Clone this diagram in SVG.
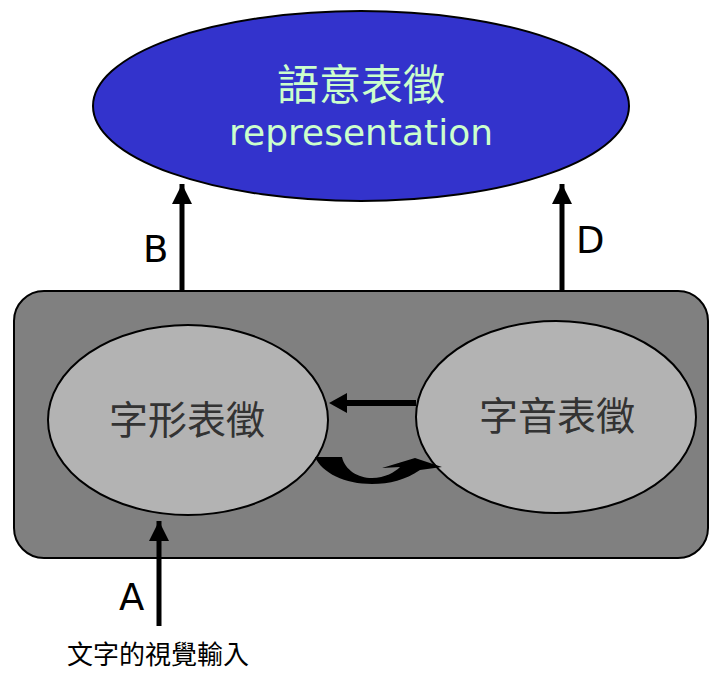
<svg xmlns="http://www.w3.org/2000/svg" width="710" height="673" viewBox="0 0 710 673">
<defs>
<style>
.cjk{font-family:"Noto Sans CJK TC","Noto Sans CJK SC",sans-serif;text-anchor:middle}
.lat{font-family:"DejaVu Sans",Verdana,sans-serif;text-anchor:middle}
.lbl{font-family:"DejaVu Sans",Verdana,sans-serif;font-size:37px;fill:#000}
.ell{stroke:#000;stroke-width:2}
.ln{stroke:#000;stroke-width:5;fill:none}
</style>
<marker id="ah" viewBox="0 0 10 10" refX="10" refY="5" markerWidth="4" markerHeight="4" orient="auto" markerUnits="strokeWidth">
<path d="M0,0 L10,5 L0,10 Z" fill="#000"/>
</marker>
</defs>
<rect width="710" height="673" fill="#fff"/>
<g id="semantic">
<ellipse class="ell" cx="361" cy="106" rx="268" ry="95" fill="#3333CC"/>
<text class="cjk" x="361" y="100" font-size="42" fill="#CCFFCC">語意表徵</text>
<text class="lat" x="361" y="145" font-size="36" fill="#CCFFCC">representation</text>
</g>
<g id="box">
<rect x="14" y="291" width="694" height="267" rx="30" fill="#808080" stroke="#000" stroke-width="2"/>
</g>
<g id="orth">
<ellipse class="ell" cx="188" cy="420" rx="140" ry="95" fill="#B3B3B3"/>
<text class="cjk" x="187" y="434" font-size="39" fill="#333">字形表徵</text>
</g>
<g id="phon">
<ellipse class="ell" cx="556" cy="417" rx="140" ry="96" fill="#B3B3B3"/>
<text class="cjk" x="557" y="430" font-size="39" fill="#333">字音表徵</text>
</g>
<g id="connectors">
<path class="ln" d="M182,291 V184" marker-end="url(#ah)"/>
<path class="ln" d="M562,291 V184" marker-end="url(#ah)"/>
<path class="ln" d="M159,626 V521" marker-end="url(#ah)"/>
<path d="M416,403 H345" stroke="#000" stroke-width="6"/>
<path d="M329,403 L347,393 L347,413 Z" fill="#000"/>
<path d="M315,457 L342,457 C345,470 358,478 372,478 C385,478 395,472 400,467 L382,468 L415,458 L442,467 L420,470 C405,480 390,484 372,484 C345,484 322,473 315,457 Z" fill="#000"/>
<text class="lbl" x="143" y="262">B</text>
<text class="lbl" x="576" y="253">D</text>
<text class="lbl" x="119" y="610">A</text>
<text class="cjk" x="158" y="664" font-size="26" fill="#000">文字的視覺輸入</text>
</g>
</svg>
